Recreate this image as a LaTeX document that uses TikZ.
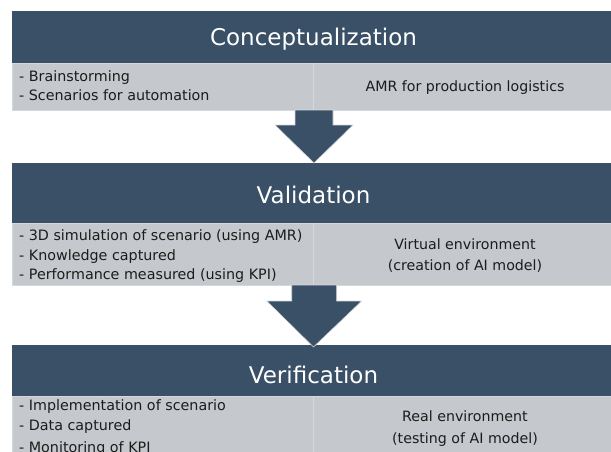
\documentclass[tikz,border=0pt]{standalone}
\usepackage{fontspec}
\setmainfont{DejaVu Sans}
\definecolor{bandblue}{RGB}{58,80,103}
\definecolor{cellgray}{RGB}{197,200,204}
\definecolor{cellrule}{RGB}{214,217,220}
\definecolor{ink}{RGB}{28,28,28}
\tikzset{
  bandbox/.style={fill=bandblue, draw=none, inner sep=0pt, outer sep=0pt, anchor=north west},
  cellbox/.style={fill=cellgray, draw=cellrule, line width=0.6pt, inner sep=0pt, outer sep=0pt, anchor=north west},
  blockarrow/.style={fill=bandblue, draw=cellrule, line width=0.6pt},
  headtext/.style={text=white, inner sep=0pt, anchor=base, font=\fontsize{23}{27}\selectfont},
  listtext/.style={text=ink, inner sep=0pt, anchor=base west, font=\fontsize{14.3}{17}\selectfont},
  notetext/.style={text=ink, inner sep=0pt, anchor=base, font=\fontsize{14.2}{17}\selectfont},
}
\begin{document}
\begin{tikzpicture}[x=1pt,y=-1pt]
\useasboundingbox (0,0) rectangle (611,451);
\clip (0,0) rectangle (611,451);

% --- Stage 1: Conceptualization
\node[bandbox, minimum width=605pt, minimum height=52pt] (head1) at (12,11) {};
\node[cellbox, minimum width=301pt, minimum height=47pt] (left1) at (12,63) {};
\node[cellbox, minimum width=304pt, minimum height=47pt] (right1) at (313,63) {};
\node[headtext] (title1) at (313.5,45) {Conceptualization};
\node[listtext] (l1a) at (19,81.7) {- Brainstorming};
\node[listtext] (l1b) at (19,100.5) {- Scenarios for automation};
\node[notetext] (n1a) at (465,91.7) {AMR for production logistics};

% --- Stage 2: Validation
\node[bandbox, minimum width=605pt, minimum height=60pt] (head2) at (12,163) {};
\node[cellbox, minimum width=301pt, minimum height=62pt] (left2) at (12,223) {};
\node[cellbox, minimum width=304pt, minimum height=62pt] (right2) at (313,223) {};
\node[headtext] (title2) at (313.5,203.3) {Validation};
\node[listtext] (l2a) at (19,240.7) {- 3D simulation of scenario (using AMR)};
\node[listtext] (l2b) at (19,260.2) {- Knowledge captured};
\node[listtext] (l2c) at (19,279.8) {- Performance measured (using KPI)};
\node[notetext] (n2a) at (465,249.3) {Virtual environment};
\node[notetext] (n2b) at (465,270) {(creation of AI model)};

% --- Stage 3: Verification
\node[bandbox, minimum width=605pt, minimum height=51pt] (head3) at (12,345) {};
\node[cellbox, minimum width=301pt, minimum height=62pt] (left3) at (12,396) {};
\node[cellbox, minimum width=304pt, minimum height=62pt] (right3) at (313,396) {};
\node[headtext] (title3) at (313.5,383.3) {Verification};
\node[listtext] (l3a) at (19,410) {- Implementation of scenario};
\node[listtext] (l3b) at (19,430.7) {- Data captured};
\node[listtext] (l3c) at (19,452.5) {- Monitoring of KPI};
\node[notetext] (n3a) at (465,421.7) {Real environment};
\node[notetext] (n3b) at (465,443.3) {(testing of AI model)};

% --- Block arrows between the stages
\draw[blockarrow] (295,110) -- (333,110) -- (333,125) -- (353,125)
  -- (314,163) -- (275,125) -- (295,125) -- cycle;
\draw[blockarrow] (291.7,285) -- (336.7,285) -- (336.7,301) -- (361.7,301)
  -- (313.5,347) -- (266.7,301) -- (291.7,301) -- cycle;
\end{tikzpicture}
\end{document}
